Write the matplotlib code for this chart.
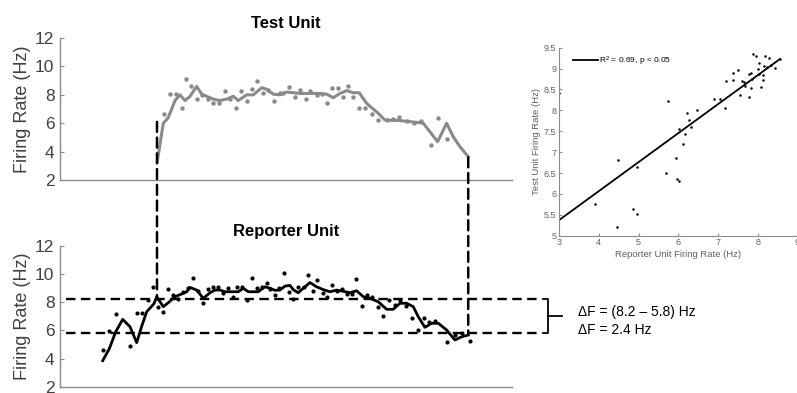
import numpy as np
import matplotlib
matplotlib.use("Agg")
import matplotlib.pyplot as plt
from matplotlib.patches import ConnectionPatch

plt.rcParams['font.family'] = ['Liberation Sans', 'DejaVu Sans']
plt.rcParams['mathtext.default'] = 'regular'

# time axis in seconds (0 - 45.2 s window)
test_dot_t = [10.4, 11.0, 11.6, 12.17, 12.57, 13.13, 13.7, 14.2, 14.77, 15.33, 15.93, 16.5, 17.0,
              17.6, 18.13, 18.67, 19.23, 19.67, 20.33, 20.83, 21.4, 22.0, 22.33, 22.9, 23.47, 24.0,
              24.6, 25.0, 25.73, 26.2, 26.73, 27.23, 27.83, 28.33, 28.83, 29.33, 29.93, 30.5, 31.17,
              31.83, 32.67, 33.3, 33.9, 34.67, 35.4, 36.07, 37.1, 37.77, 38.67]
test_dot_fr = [6.65, 8.05, 8.05, 7.05, 9.15, 8.65, 7.7, 8.0, 7.7, 7.45, 7.45, 8.3, 7.7,
               7.1, 8.3, 7.6, 8.4, 9.0, 8.15, 8.35, 7.6, 8.1, 8.15, 8.55, 7.85, 8.35,
               7.7, 8.3, 8.0, 8.05, 7.4, 8.45, 8.45, 7.85, 8.65, 7.85, 7.05, 7.1, 6.65,
               6.23, 6.2, 6.27, 6.46, 6.15, 6.0, 6.15, 4.46, 6.35, 4.87]

test_line_t = [9.73, 10.33, 10.83, 11.5, 12.0, 12.5, 13.0, 13.67, 14.17, 14.67, 15.33, 16.0, 16.67,
               17.33, 17.83, 18.67, 19.33, 20.17, 20.67, 21.33, 22.0, 22.67, 23.33, 24.0, 24.67,
               25.33, 26.0, 26.67, 27.33, 28.0, 28.67, 29.33, 29.93, 30.67, 31.83, 32.5, 33.17,
               33.83, 34.5, 35.17, 35.83, 36.33, 37.0, 37.77, 38.67, 39.33, 40.0, 40.83]
test_line_fr = [3.3, 6.0, 6.4, 7.6, 8.0, 7.6, 7.9, 8.6, 8.05, 7.9, 7.7, 7.6, 7.7,
                7.9, 7.6, 8.0, 8.0, 8.5, 8.4, 8.05, 8.0, 8.2, 8.15, 8.1, 8.1,
                8.1, 8.1, 8.05, 7.8, 8.1, 8.3, 8.15, 8.15, 7.4, 6.7, 6.23, 6.2,
                6.2, 6.15, 6.1, 6.05, 6.0, 5.4, 4.7, 6.0, 5.05, 4.35, 3.64]

rep_dot_t = [4.27, 4.93, 5.57, 7.0, 7.67, 8.17, 8.77, 9.27, 9.83, 10.33, 10.83, 11.33, 11.83,
             12.33, 12.83, 13.33, 13.83, 14.33, 14.83, 15.33, 15.83, 16.33, 16.83, 17.33, 17.73,
             18.17, 18.67, 19.17, 19.67, 20.17, 20.67, 21.0, 21.5, 21.93, 22.4, 22.93, 23.33,
             23.83, 24.4, 24.83, 25.33, 25.73, 26.27, 26.73, 27.23, 27.67, 28.17, 28.67, 29.17,
             29.6, 30.17, 30.67, 31.17, 31.77, 32.33, 32.93, 33.5, 34.0, 34.6, 35.17, 35.83,
             36.4, 36.93, 37.5, 38.67, 39.5, 40.17, 41.0]
rep_dot_fr = [4.61, 5.98, 7.17, 4.89, 7.22, 7.26, 8.16, 9.11, 7.69, 7.33, 8.92, 8.52, 8.21,
              8.75, 8.99, 9.7, 8.82, 7.93, 8.92, 9.06, 9.06, 8.68, 8.99, 8.4, 9.06,
              9.06, 8.16, 9.7, 8.99, 9.06, 9.35, 8.92, 8.52, 8.99, 10.1, 8.75, 8.21,
              9.06, 9.06, 9.94, 8.82, 9.58, 8.64, 8.4, 9.23, 8.82, 8.92, 8.59, 8.59,
              9.63, 7.74, 8.52, 8.35, 7.64, 7.02, 8.16, 7.81, 8.16, 7.75, 6.86, 6.03,
              6.86, 6.62, 6.69, 5.2, 5.67, 5.84, 5.27]

rep_line_t = [4.27, 4.93, 5.57, 6.27, 7.0, 7.67, 8.17, 8.67, 9.4, 9.67, 10.33, 10.83, 11.5,
              12.17, 12.67, 13.0, 13.67, 14.33, 15.0, 15.5, 16.0, 16.5, 17.0, 17.83, 18.33,
              18.83, 19.17, 19.83, 20.5, 21.0, 21.5, 22.0, 22.5, 23.0, 23.33, 23.83, 24.33,
              25.0, 25.67, 26.33, 27.0, 27.67, 28.33, 29.0, 29.67, 30.33, 31.0, 31.83, 32.67,
              33.33, 34.0, 34.67, 35.33, 35.83, 36.5, 37.17, 37.83, 38.67, 39.5, 40.17, 40.83]
rep_line_fr = [3.85, 4.7, 5.9, 6.79, 6.26, 5.13, 6.3, 7.33, 7.9, 8.4, 7.69, 7.97, 8.4,
               8.59, 8.75, 9.06, 8.87, 8.28, 8.68, 8.87, 8.87, 8.75, 8.75, 8.75, 8.99,
               8.75, 8.75, 8.75, 9.1, 9.0, 8.85, 8.87, 9.15, 9.2, 8.9, 8.68, 9.0,
               9.4, 9.1, 8.9, 8.75, 8.87, 8.78, 8.68, 8.82, 8.4, 8.28, 8.04, 7.5,
               7.5, 7.93, 7.93, 7.69, 6.98, 6.22, 6.51, 6.51, 6.03, 5.32, 5.55, 5.67]

# reporter vs test unit correlation
rep_rate = [3.0, 3.91, 4.48, 4.47, 4.87, 4.97, 4.97, 5.69, 5.75, 5.95, 5.98, 6.01, 6.03, 6.12,
            6.16, 6.23, 6.28, 6.31, 6.46, 6.89, 7.04, 7.18, 7.20, 7.37, 7.37, 7.51, 7.55, 7.60,
            7.65, 7.69, 7.77, 7.79, 7.82, 7.82, 7.85, 7.89, 7.96, 8.0, 8.02, 8.04, 8.08, 8.12,
            8.12, 8.15, 8.18, 8.23, 8.27, 8.34, 8.44, 8.55]
test_rate = [8.42, 5.76, 6.81, 5.20, 5.64, 5.53, 6.64, 6.49, 8.22, 6.87, 6.36, 6.32, 7.56, 7.20,
             7.43, 7.93, 7.76, 7.59, 8.01, 8.28, 8.26, 8.06, 8.70, 8.72, 8.90, 8.96, 8.36, 8.71,
             8.69, 8.58, 8.33, 8.87, 8.90, 8.53, 8.74, 9.34, 9.30, 8.98, 9.14, 8.87, 8.57, 8.73,
             8.85, 9.05, 9.29, 9.03, 9.26, 9.09, 9.02, 9.22]
fit_slope = 0.694
fit_intercept = 3.29

f_high = 8.2
f_low = 5.8

gray = '#8a8a8a'
axis_gray = '#8c8c8c'
text_gray = '#404040'

fig = plt.figure(figsize=(7.97, 3.93), dpi=100)
ax_top = fig.add_axes([0.0753, 0.542, 0.567, 0.361])
ax_bot = fig.add_axes([0.0753, 0.016, 0.567, 0.358])

for ax, title in [(ax_top, 'Test Unit'), (ax_bot, 'Reporter Unit')]:
    ax.set_xlim(0, 45.2)
    ax.set_ylim(2, 12)
    ax.set_yticks([2, 4, 6, 8, 10, 12])
    ax.set_xticks([])
    for s in ['top', 'right']:
        ax.spines[s].set_visible(False)
    for s in ['left', 'bottom']:
        ax.spines[s].set_color(axis_gray)
        ax.spines[s].set_linewidth(1.0)
    ax.tick_params(axis='y', direction='in', length=3, color=axis_gray,
                   labelsize=12.5, labelcolor=text_gray, pad=4)
    ax.set_ylabel('Firing Rate (Hz)', fontsize=13, color=text_gray, labelpad=3)
    ax.set_title(title, fontsize=12, fontweight='bold', pad=7)
    ax.patch.set_alpha(0)

ax_top.plot(test_line_t, test_line_fr, color=gray, lw=2.2)
ax_top.plot(test_dot_t, test_dot_fr, 'o', color=gray, ms=3.2, mec='none')

ax_bot.plot(rep_line_t, rep_line_fr, color='black', lw=2.0)
ax_bot.plot(rep_dot_t, rep_dot_fr, 'o', color='black', ms=3.0, mec='none')

dash = (0, (4, 2.3))
# vertical markers at response onset / offset, spanning both panels
for t0, y_top, y_bot in [(9.7, 6.1, f_high), (40.83, 3.6, f_low)]:
    con = ConnectionPatch(xyA=(t0, y_top), coordsA=ax_top.transData,
                          xyB=(t0, y_bot), coordsB=ax_bot.transData,
                          color='black', lw=1.8, linestyle=dash)
    fig.add_artist(con)

# firing-rate difference levels
for lvl in [f_high, f_low]:
    ax_bot.plot([0.6, 48.2], [lvl, lvl], color='black', lw=1.7, linestyle=dash, clip_on=False)

# bracket
bx = 48.8
ax_bot.plot([bx - 0.5, bx, bx, bx - 0.5], [f_high, f_high, f_low, f_low],
            color='black', lw=1.3, clip_on=False)
ax_bot.plot([bx, bx + 1.4], [(f_high + f_low) / 2] * 2, color='black', lw=1.3, clip_on=False)

fig.text(0.7252, 0.2069, 'ΔF = (%.1f – %.1f) Hz' % (f_high, f_low), fontsize=10,
         va='center', ha='left')
fig.text(0.7252, 0.1603, 'ΔF = %.1f Hz' % (f_high - f_low), fontsize=10,
         va='center', ha='left')

# correlation inset
ax_in = fig.add_axes([0.7014, 0.4003, 0.2993, 0.4784])
ax_in.set_xlim(3, 9)
ax_in.set_ylim(5, 9.5)
ax_in.set_xticks([3, 4, 5, 6, 7, 8, 9])
ax_in.set_yticks(np.arange(5, 9.51, 0.5))
ax_in.yaxis.set_major_formatter(matplotlib.ticker.FormatStrFormatter('%g'))
for s in ['top', 'right']:
    ax_in.spines[s].set_visible(False)
for s in ['left', 'bottom']:
    ax_in.spines[s].set_color(axis_gray)
    ax_in.spines[s].set_linewidth(0.8)
ax_in.tick_params(direction='in', length=2, color=axis_gray, labelsize=6.5,
                  labelcolor='#606060', pad=2)
ax_in.set_xlabel('Reporter Unit Firing Rate (Hz)', fontsize=6.8, color='#606060', labelpad=2)
ax_in.set_ylabel('Test Unit Firing Rate (Hz)', fontsize=6.8, color='#606060', labelpad=2)
ax_in.patch.set_alpha(0)

ax_in.plot(rep_rate, test_rate, 'o', color='black', ms=1.8, mec='none')
fx = np.array([3.0, 8.55])
ax_in.plot(fx, fit_slope * fx + fit_intercept, color='black', lw=1.3,
           label='R$^2$ = 0.69, p < 0.05')
ax_in.legend(loc='upper left', frameon=False, fontsize=6, handlelength=3.0,
             handletextpad=0.1, borderaxespad=0.4, bbox_to_anchor=(0.03, 1.0))

fig.savefig('out.png', dpi=100)
